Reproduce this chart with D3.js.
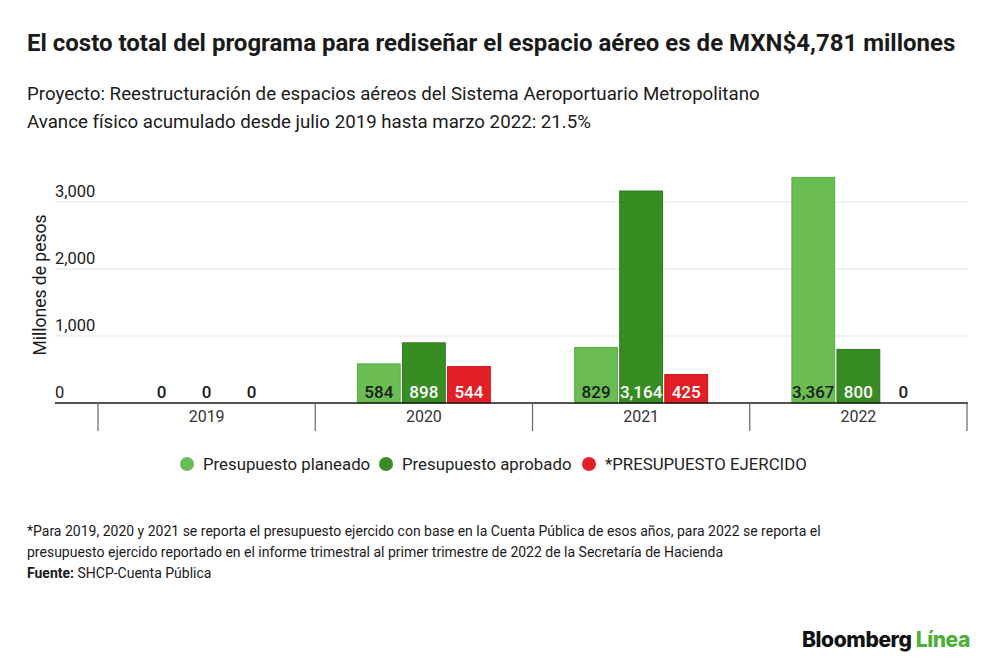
<!DOCTYPE html>
<html>
<head>
<meta charset="utf-8">
<script src="https://cdn.jsdelivr.net/npm/d3@7"></script>
<style>
  body { margin: 0; background: #fff; }
  svg { font-family: Roboto, "Noto Sans", sans-serif; }
</style>
</head>
<body>
<div id="chart"></div>
<script>
// data
var years = ["2019", "2020", "2021", "2022"];
var seriesNames = ["Presupuesto planeado", "Presupuesto aprobado", "*PRESUPUESTO EJERCIDO"];
var planeado = [0, 584, 829, 3367];
var aprobado = [0, 898, 3164, 800];
var ejercido = [0, 544, 425, 0];
var yTicks = [0, 1000, 2000, 3000];

var colors = ["#69bd52", "#378c22", "#e21f26"];
var strokes = ["#58aa43", "#2d7a1b", "#c8161d"];
var labelColors = ["#1b1b1b", "#ffffff", "#ffffff"];

var width = 1000, height = 668;

var svg = d3.select("#chart")
  .append("svg")
  .attr("width", width)
  .attr("height", height);

// titles
svg.append("text")
  .attr("x", 27)
  .attr("y", 51)
  .style("font-size", "24px")
  .style("font-weight", "700")
  .style("fill", "#1a1a1a")
  .text("El costo total del programa para rediseñar el espacio aéreo es de MXN$4,781 millones");

svg.append("text")
  .attr("x", 27)
  .attr("y", 100)
  .style("font-size", "18.7px")
  .style("fill", "#1a1a1a")
  .text("Proyecto: Reestructuración de espacios aéreos del Sistema Aeroportuario Metropolitano");

svg.append("text")
  .attr("x", 27)
  .attr("y", 128)
  .style("font-size", "18.7px")
  .style("fill", "#1a1a1a")
  .text("Avance físico acumulado desde julio 2019 hasta marzo 2022: 21.5%");

// scales
var yScale = d3.scaleLinear()
  .domain([0, 3000])
  .range([403, 202]);

var xScale = d3.scaleBand()
  .domain(years)
  .range([98, 967])
  .padding(0);

var bw = xScale.bandwidth();
var x1 = d3.scaleBand()
  .domain(d3.range(seriesNames.length))
  .range([bw * 0.194, bw * 0.806])
  .paddingInner(0.05);

// gridlines + y labels
var grid = svg.append("g").attr("class", "grid");
grid.selectAll("line")
  .data(yTicks.filter(function(d) { return d > 0; }))
  .enter()
  .append("line")
  .attr("x1", 55)
  .attr("x2", 968)
  .attr("y1", function(d) { return yScale(d); })
  .attr("y2", function(d) { return yScale(d); })
  .attr("stroke", "#e3e3e3")
  .attr("stroke-width", 1.2);

grid.selectAll("text")
  .data(yTicks)
  .enter()
  .append("text")
  .attr("x", 55)
  .attr("y", function(d) { return yScale(d) - 5; })
  .style("font-size", "16.5px")
  .style("fill", "#1a1a1a")
  .text(function(d) { return d3.format(",")(d); });

svg.append("text")
  .attr("transform", "translate(46,285) rotate(-90)")
  .attr("text-anchor", "middle")
  .style("font-size", "17.5px")
  .style("fill", "#1a1a1a")
  .text("Millones de pesos");

// bars
var series = [planeado, aprobado, ejercido];
var rows = [];
years.forEach(function(y, i) {
  series.forEach(function(s, j) {
    rows.push({year: y, idx: j, value: s[i]});
  });
});

var groups = svg.append("g")
  .selectAll("g")
  .data(rows)
  .enter()
  .append("g")
  .attr("transform", function(d) { return "translate(" + (xScale(d.year) + x1(d.idx)) + ",0)"; });

groups.filter(function(d) { return d.value > 0; })
  .append("rect")
  .attr("x", 0)
  .attr("y", function(d) { return yScale(d.value); })
  .attr("width", x1.bandwidth())
  .attr("height", function(d) { return yScale(0) - yScale(d.value); })
  .attr("fill", function(d) { return colors[d.idx]; })
  .attr("stroke", function(d) { return strokes[d.idx]; })
  .attr("stroke-width", 1);

groups.append("text")
  .attr("x", x1.bandwidth() / 2)
  .attr("y", 398)
  .attr("text-anchor", "middle")
  .style("font-size", "17px")
  .style("font-weight", "500")
  .style("fill", function(d) { return d.value > 0 ? labelColors[d.idx] : "#1b1b1b"; })
  .text(function(d) { return d3.format(",")(d.value); });

// x axis
svg.append("line")
  .attr("x1", 55)
  .attr("x2", 968)
  .attr("y1", yScale(0))
  .attr("y2", yScale(0))
  .attr("stroke", "#1a1a1a")
  .attr("stroke-width", 1.6);

var xAxis = svg.append("g")
  .attr("transform", "translate(0," + yScale(0) + ")")
  .call(d3.axisBottom(xScale).tickSize(0).tickPadding(8));
xAxis.select(".domain").remove();
xAxis.selectAll("text")
  .style("font-family", "Roboto, sans-serif")
  .style("font-size", "16px")
  .style("fill", "#333");

var edges = years.map(function(y) { return xScale(y); }).concat([xScale.range()[1]]);
svg.append("g")
  .selectAll("line")
  .data(edges)
  .enter()
  .append("line")
  .attr("x1", function(d) { return d; })
  .attr("x2", function(d) { return d; })
  .attr("y1", yScale(0))
  .attr("y2", yScale(0) + 28)
  .attr("stroke", "#666")
  .attr("stroke-width", 1.2);

// legend
var legendX = [187, 386, 589];
var legend = svg.append("g")
  .selectAll("g")
  .data(seriesNames)
  .enter()
  .append("g")
  .attr("transform", function(d, i) { return "translate(" + legendX[i] + ",464)"; });

legend.append("circle")
  .attr("r", 7)
  .attr("fill", function(d, i) { return colors[i]; });

legend.append("text")
  .attr("x", 16)
  .attr("y", 6)
  .style("font-size", "16.8px")
  .style("fill", "#222")
  .text(function(d) { return d; });

// notes
var notes = [
  "*Para 2019, 2020 y 2021 se reporta el presupuesto ejercido con base en la Cuenta Pública de esos años, para 2022 se reporta el",
  "presupuesto ejercido reportado en el informe trimestral al primer trimestre de 2022 de la Secretaría de Hacienda"
];
svg.append("g")
  .selectAll("text")
  .data(notes)
  .enter()
  .append("text")
  .attr("x", 27)
  .attr("y", function(d, i) { return 536 + i * 21; })
  .style("font-size", "14px")
  .style("fill", "#1a1a1a")
  .text(function(d) { return d; });

var src = svg.append("text")
  .attr("x", 27)
  .attr("y", 578)
  .style("font-size", "14px")
  .style("fill", "#1a1a1a");
src.append("tspan").style("font-weight", "700").text("Fuente:");
src.append("tspan").text(" SHCP-Cuenta Pública");

// logo
var logo = svg.append("text")
  .attr("x", 970)
  .attr("y", 647)
  .attr("text-anchor", "end")
  .style("font-family", "Inter, Roboto, sans-serif")
  .style("font-size", "21px")
  .style("font-weight", "800")
  .style("letter-spacing", "-0.4px");
logo.append("tspan").style("fill", "#111").text("Bloomberg ");
logo.append("tspan").style("fill", "#4caf36").text("Línea");
</script>
</body>
</html>
